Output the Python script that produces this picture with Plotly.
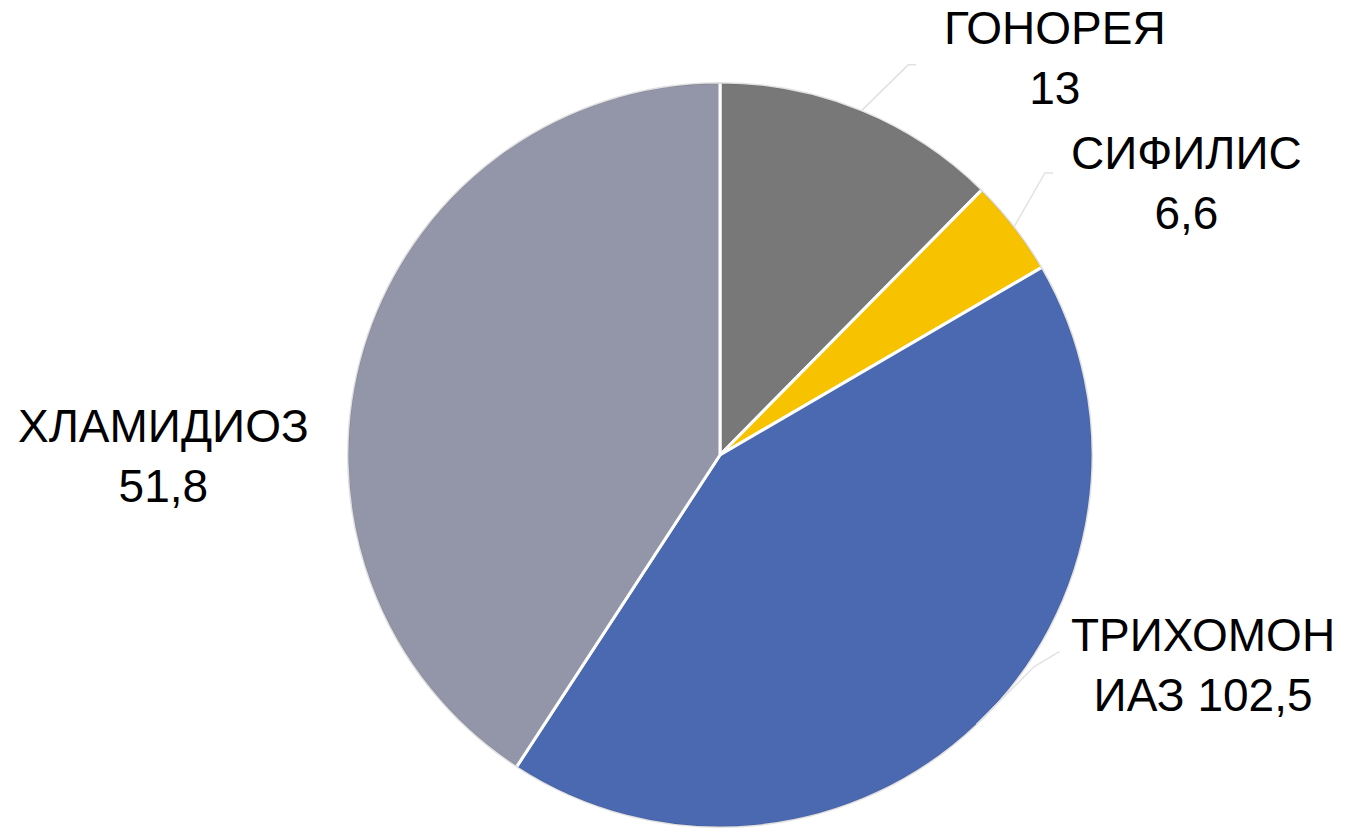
import math
import plotly.graph_objects as go

# ---- data ----
categories = ["ГОНОРЕЯ", "СИФИЛИС", "ТРИХОМОНИАЗ", "ХЛАМИДИОЗ"]
label_texts = ["ГОНОРЕЯ<br>13", "СИФИЛИС<br>6,6", "ТРИХОМОН<br>ИАЗ 102,5", "ХЛАМИДИОЗ<br>51,8"]
slice_shares = [12.4, 4.2, 42.6, 40.8]   # visual slice sizes, % of circle
colors = ["#787878", "#F7C300", "#4A69B1", "#9395A8"]

# ---- layout geometry ----
W, H = 1346, 828
cx, cy, R = 720, 455, 372          # pie centre / radius in px
label_pos = [(1055, 58), (1186, 183), (1203, 665), (163, 456)]
leader_on = [True, True, True, False]

def px(x):
    return x / W

def py(y):
    return min(1.0, max(0.0, 1 - y / H))

fig = go.Figure()
RD = 373
fig.add_trace(go.Pie(
    labels=categories,
    values=slice_shares,
    sort=False,
    direction="clockwise",
    rotation=0,
    textinfo="none",
    hoverinfo="label+percent",
    marker=dict(colors=colors, line=dict(color="white", width=3)),
    domain=dict(x=[px(cx - RD), px(cx + RD)], y=[py(cy + RD), py(cy - RD)]),
    showlegend=False,
))

total = sum(slice_shares)
cum = 0.0
shapes = [dict(type="circle", xref="paper", yref="paper",
               x0=px(cx - R), x1=px(cx + R), y0=1 - (cy + R) / H, y1=py(cy - R),
               line=dict(color="rgba(0,0,0,0.12)", width=2), layer="above")]
annotations = []
for i, share in enumerate(slice_shares):
    mid = (cum + share / 2) / total * 2 * math.pi
    cum += share
    sx = cx + R * math.sin(mid)
    sy = cy - R * math.cos(mid)
    lx, ly = label_pos[i]
    if leader_on[i]:
        if i == 2:
            bx, by = sx + 58, sy - 58
            ex, ey = bx + 25, by - 15
        else:
            bx, by = (sx + 47, sy - 46) if i == 0 else (sx + 31, sy - 54)
            ex, ey = bx + 8, by
        shapes.append(dict(type="path", xref="paper", yref="paper",
                           path=f"M {px(sx)} {py(sy)} L {px(bx)} {py(by)} L {px(ex)} {py(ey)}",
                           line=dict(color="#e2e2e2", width=1.5)))
    annotations.append(dict(
        x=px(lx), y=py(ly), xref="paper", yref="paper",
        text=label_texts[i], showarrow=False,
        xanchor="center", yanchor="middle", align="center",
        font=dict(family="Liberation Sans, Arial, sans-serif", size=46, color="black"),
        bgcolor="white" if i == 2 else "rgba(0,0,0,0)",
    ))

fig.update_layout(
    width=W, height=H,
    margin=dict(l=0, r=0, t=0, b=0),
    paper_bgcolor="white", plot_bgcolor="white",
    shapes=shapes, annotations=annotations,
)

fig.write_html("out.html", config={"displayModeBar": False},
               post_script="document.body.style.margin='0';document.body.style.overflow='hidden';")
